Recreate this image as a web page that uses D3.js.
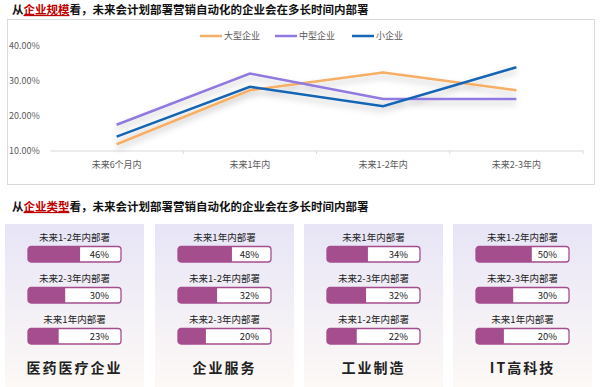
<!DOCTYPE html>
<html>
<head>
<meta charset="utf-8">
<script src="https://cdn.jsdelivr.net/npm/d3@7"></script>
<style>
  body { margin: 0; background: #fff; }
  svg { display: block; font-family: "Noto Sans CJK SC", "Noto Sans", sans-serif; }
</style>
</head>
<body>
<svg id="chart" width="600" height="387"></svg>
<script>
// line chart data (by company size)
var periods = ['未来6个月内', '未来1年内', '未来1-2年内', '未来2-3年内'];
var seriesNames = ['大型企业', '中型企业', '小企业'];
var largeVals = [0.118, 0.273, 0.324, 0.273];
var midVals = [0.174, 0.321, 0.248, 0.248];
var smallVals = [0.14, 0.283, 0.227, 0.339];
var yTicks = [0.1, 0.2, 0.3, 0.4];

// panels data (by company type)
var industries = ['医药医疗企业', '企业服务', '工业制造', 'IT高科技'];
var panelLabels = [
  ['未来1-2年内部署', '未来2-3年内部署', '未来1年内部署'],
  ['未来1年内部署', '未来1-2年内部署', '未来2-3年内部署'],
  ['未来1年内部署', '未来2-3年内部署', '未来1-2年内部署'],
  ['未来1-2年内部署', '未来2-3年内部署', '未来1年内部署']
];
var panelVals = [
  [0.46, 0.30, 0.23],
  [0.48, 0.32, 0.20],
  [0.34, 0.32, 0.22],
  [0.50, 0.30, 0.20]
];

var colors = ['#F5AF66', '#9079DF', '#1565B5'];
var svg = d3.select('#chart');

var defs = svg.append('defs');
defs.append('filter').attr('id', 'shadow')
  .attr('x', '-10%').attr('y', '-30%').attr('width', '120%').attr('height', '160%')
  .append('feDropShadow')
  .attr('dx', 0).attr('dy', 4).attr('stdDeviation', 3)
  .attr('flood-color', '#000').attr('flood-opacity', 0.22);

var grad = defs.append('linearGradient').attr('id', 'panelGrad')
  .attr('x1', 0).attr('y1', 0).attr('x2', 0).attr('y2', 1);
grad.append('stop').attr('offset', '0%').attr('stop-color', '#E7E5F6');
grad.append('stop').attr('offset', '100%').attr('stop-color', '#FDF9F6');

function title(y, red) {
  var t = svg.append('text').attr('x', 12).attr('y', y)
    .attr('font-size', 11.5).attr('font-weight', 'bold').attr('fill', '#111');
  t.append('tspan').text('从');
  t.append('tspan').attr('fill', '#C00000').attr('text-decoration', 'underline').text(red);
  t.append('tspan').text('看，未来会计划部署营销自动化的企业会在多长时间内部署');
}

// ---- top: line chart ----
title(14, '企业规模');

svg.append('rect').attr('x', 7.5).attr('y', 19.5).attr('width', 587).attr('height', 165)
  .attr('fill', '#fff').attr('stroke', '#D9D9D9');

var x = d3.scaleBand().domain(periods).range([50, 583]);
var y = d3.scaleLinear().domain([0.1, 0.4]).range([150.5, 46]);

var xAxis = svg.append('g').attr('transform', 'translate(0,150.5)')
  .call(d3.axisBottom(x).tickSize(0).tickPadding(11));
xAxis.select('.domain').attr('stroke', '#D9D9D9');
xAxis.selectAll('text').attr('font-size', 9).attr('fill', '#595959')
  .attr('font-family', '"Noto Sans CJK SC", sans-serif');
// boundary ticks
svg.append('g').selectAll('line')
  .data(periods.slice(1).concat(['end']))
  .join('line')
  .attr('x1', function(d) { return d === 'end' ? x.range()[1] : x(d); })
  .attr('x2', function(d) { return d === 'end' ? x.range()[1] : x(d); })
  .attr('y1', 150.5).attr('y2', 154)
  .attr('stroke', '#D9D9D9');

svg.append('g').selectAll('text')
  .data(yTicks)
  .join('text')
  .attr('x', 9).attr('y', function(d) { return y(d); })
  .attr('dy', '0.35em')
  .attr('font-size', 9).attr('fill', '#595959')
  .text(d3.format('.2%'));

var series = [largeVals, midVals, smallVals];
var line = d3.line()
  .x(function(d, i) { return x(periods[i]) + x.bandwidth() / 2; })
  .y(function(d) { return y(d); });

svg.append('g').attr('filter', 'url(#shadow)')
  .selectAll('path')
  .data(series)
  .join('path')
  .attr('d', line)
  .attr('fill', 'none')
  .attr('stroke', function(d, i) { return colors[i]; })
  .attr('stroke-width', 2.5);

// legend
var legendX = [200, 275, 352];
var legend = svg.append('g').selectAll('g')
  .data(seriesNames)
  .join('g')
  .attr('transform', function(d, i) { return 'translate(' + legendX[i] + ',36)'; });
legend.append('line').attr('x1', 0).attr('x2', 22)
  .attr('stroke', function(d, i) { return colors[i]; }).attr('stroke-width', 2.5);
legend.append('text').attr('x', 24).attr('dy', '0.35em')
  .attr('font-size', 9).attr('fill', '#595959').text(function(d) { return d; });

// ---- bottom: panels ----
title(211, '企业类型');

var panelX = [5, 155, 304, 453];
var panelW = 139;
var barW = 93, barH = 15.5;
var barTops = [246.5, 287.5, 328.5];
var fillScale = d3.scaleLinear().domain([-0.1, 0.9]).range([0, barW]);

var panels = svg.append('g').selectAll('g')
  .data(industries)
  .join('g')
  .attr('transform', function(d, i) { return 'translate(' + panelX[i] + ',0)'; });

panels.append('rect')
  .attr('x', 0).attr('y', 224).attr('width', panelW).attr('height', 163)
  .attr('fill', 'url(#panelGrad)');

panels.append('text')
  .attr('x', panelW / 2).attr('y', 368).attr('dy', '0.35em')
  .attr('text-anchor', 'middle')
  .attr('font-size', 14).attr('font-weight', 600).attr('letter-spacing', 2)
  .attr('fill', '#222')
  .text(function(d) { return d; });

panels.each(function(d, pi) {
  var g = d3.select(this);
  var bx = (panelW - barW) / 2;
  var rows = g.selectAll('g.row')
    .data(panelVals[pi])
    .join('g')
    .attr('class', 'row')
    .attr('transform', function(v, ri) { return 'translate(' + bx + ',' + barTops[ri] + ')'; });

  rows.append('text')
    .attr('x', barW / 2).attr('y', -9).attr('dy', '0.35em')
    .attr('text-anchor', 'middle').attr('font-size', 9.5).attr('fill', '#222')
    .text(function(v, ri) { return panelLabels[pi][ri]; });

  rows.append('clipPath').attr('id', function(v, ri) { return 'clip' + pi + '_' + ri; })
    .append('rect').attr('width', barW).attr('height', barH).attr('rx', 3);

  rows.append('rect')
    .attr('width', barW).attr('height', barH).attr('rx', 3)
    .attr('fill', '#fff');

  rows.append('rect')
    .attr('clip-path', function(v, ri) { return 'url(#clip' + pi + '_' + ri + ')'; })
    .attr('width', function(v) { return fillScale(v); }).attr('height', barH)
    .attr('fill', '#A54E8E');

  rows.append('rect')
    .attr('width', barW).attr('height', barH).attr('rx', 3)
    .attr('fill', 'none').attr('stroke', '#A54E8E').attr('stroke-width', 1.3);

  rows.append('text')
    .attr('x', barW - 12).attr('y', barH / 2).attr('dy', '0.35em')
    .attr('text-anchor', 'end').attr('font-size', 9.5).attr('fill', '#222')
    .text(function(v) { return d3.format('.0%')(v); });
});
</script>
</body>
</html>
